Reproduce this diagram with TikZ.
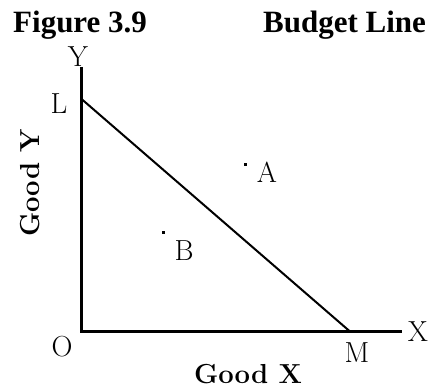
\documentclass[tikz,border=0pt]{standalone}
\usepackage{fontspec}
\newfontfamily\titlefont{Liberation Serif}
\begin{document}
\begin{tikzpicture}[x=1pt,y=1pt,
  axis/.style={line width=3.2pt},
  budget/.style={line width=2pt},
  lab/.style={inner sep=0pt,font=\fontsize{29}{29}\selectfont},
  axlab/.style={inner sep=0pt,font=\fontsize{27.5}{27.5}\selectfont\bfseries},
  ttl/.style={inner sep=0pt,anchor=base west,font=\titlefont\fontsize{31}{31}\selectfont\bfseries},
  dotmark/.style={fill=black,inner sep=0pt,minimum size=3pt}]
\useasboundingbox (0,0) rectangle (428,388);
% title
\node[ttl] (fig) at (13,355) {Figure 3.9};
\node[ttl] (bl) at (263,355) {Budget Line};
% key points
\coordinate (O) at (81.5,56.5);
\coordinate (Ytop) at (81.5,321);
\coordinate (Xend) at (402,56.5);
\coordinate (L) at (81.5,289);
\coordinate (M) at (350,56.5);
% axes
\draw[axis] (Ytop) -- (O) -- (Xend);
% budget line
\draw[budget] (L) -- (M);
% labels
\node[lab] (ylab) at (78,331) {Y};
\node[lab] (llab) at (59,284) {L};
\node[lab] (xlab) at (418,56) {X};
\node[lab] (olab) at (62,41) {O};
\node[lab] (mlab) at (357,35) {M};
\node[axlab] (gx) at (248,14) {Good X};
\node[axlab,rotate=90] (gy) at (30,205) {Good Y};
% points
\node[dotmark] (A) at (245.5,223) {};
\node[lab] (alab) at (267,216) {A};
\node[dotmark] (B) at (163,155) {};
\node[lab] (blab) at (184,137) {B};
\end{tikzpicture}
\end{document}
